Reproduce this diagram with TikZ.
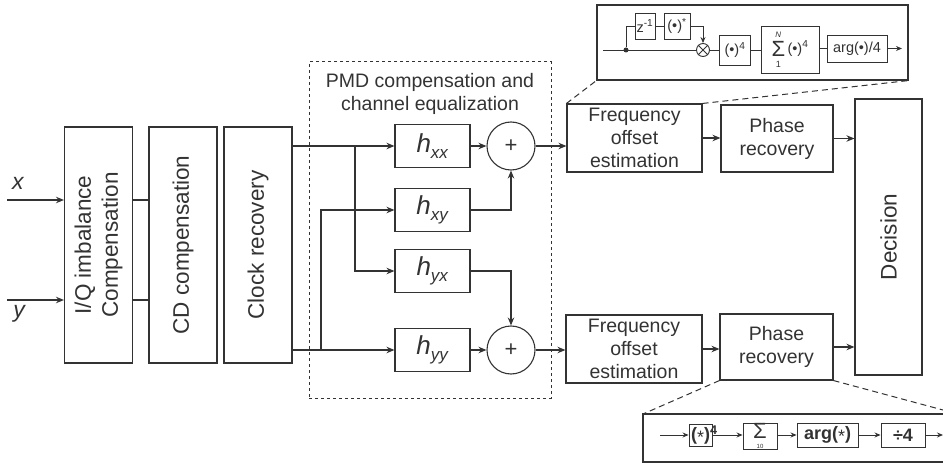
\documentclass[tikz,border=0pt]{standalone}
\usepackage{fontspec}
\setmainfont{Liberation Sans}
\usetikzlibrary{arrows.meta, calc}
\definecolor{ink}{HTML}{333333}
\newcommand{\hsub}[1]{\textit{h}\raisebox{-0.4ex}{\fontsize{17}{17}\selectfont\textit{#1}}}

\begin{document}
\begin{tikzpicture}[x=1pt, y=-1pt,
        box/.style={draw=ink, line width=1.1pt, fill=white, align=center, inner sep=0pt, text=ink},
        blk/.style={box, font=\fontsize{19.5}{23}\selectfont},
        vblk/.style={box, rotate=90, minimum width=236pt, minimum height=68pt, font=\fontsize{22.5}{27}\selectfont},
        filt/.style={box, minimum width=75pt, minimum height=43pt, font=\fontsize{26}{26}\selectfont},
        adder/.style={box, circle, minimum size=48pt, font=\fontsize{22}{22}\selectfont},
        sm/.style={box, line width=0.9pt, font=\fontsize{14.5}{15}\selectfont},
        bsm/.style={box, line width=0.9pt, font=\fontsize{18}{18}\selectfont\bfseries},
        arr/.style={draw=ink, line width=1.1pt, -{Stealth[length=8pt, width=6.5pt]}},
        sarr/.style={draw=ink, line width=0.9pt, -{Stealth[length=6pt, width=5pt]}},
        wire/.style={draw=ink, line width=1.1pt},
        swire/.style={draw=ink, line width=0.9pt},
        zoomln/.style={draw=ink, line width=1pt, dash pattern=on 6pt off 4pt},
        lbl/.style={text=ink, font=\fontsize{23}{23}\selectfont\itshape}
    ]
        \useasboundingbox (0,0) rectangle (943,465);

        \node[vblk] (iq) at (98.5,245) {I/Q imbalance\\Compensation};
        \node[vblk] (cd) at (183,245) {CD compensation};
        \node[vblk] (clk) at (258,245) {Clock recovery};
        \node[lbl] (xin) at (18,183) {x};
        \node[lbl] (yin) at (19,314) {y};
        \coordinate (xs) at (7,200);
        \coordinate (ys) at (7,300);
        \draw[arr] (xs) -- (xs -| iq.north);
        \draw[arr] (ys) -- (ys -| iq.north);
        \draw[wire] (iq.south |- xs) -- (cd.north |- xs);
        \draw[wire] (iq.south |- ys) -- (cd.north |- ys);

        \node[draw=ink, dashed, line width=1pt, minimum width=242pt, minimum height=336pt, inner sep=0pt] (pmd) at (430,230) {};
        \node[text=ink, align=center, font=\fontsize{19.5}{23}\selectfont] (pmdt) at (430,94) {PMD compensation and\\channel equalization};

        \node[filt] (hxx) at (432.5,146) {\hsub{xx}};
        \node[filt] (hxy) at (432.5,210) {\hsub{xy}};
        \node[filt] (hyx) at (432.5,271) {\hsub{yx}};
        \node[filt] (hyy) at (432.5,350) {\hsub{yy}};
        \node[adder] (sa) at (511,146) {+};
        \node[adder] (sb) at (511,350) {+};
        \coordinate (ta) at (355,146);
        \coordinate (tb) at (321,350);

        \draw[arr] (clk.south |- hxx) -- (hxx);
        \draw[arr] (clk.south |- hyy) -- (hyy);
        \draw[arr] (ta) |- (hyx);
        \draw[arr] (tb) |- (hxy);
        \draw[arr] (hxx) -- (sa);
        \draw[arr] (hyy) -- (sb);
        \draw[arr] (hxy) -| (sa);
        \draw[arr] (hyx) -| (sb);

        \node[blk, minimum width=135pt, minimum height=68pt] (fa) at (634.5,138) {Frequency\\offset\\estimation};
        \node[blk, minimum width=112pt, minimum height=67pt] (pa) at (777,138.5) {Phase\\recovery};
        \node[blk, minimum width=136pt, minimum height=68pt] (fb) at (634,349) {Frequency\\offset\\estimation};
        \node[blk, minimum width=113pt, minimum height=66pt] (pb) at (776.5,347) {Phase\\recovery};
        \node[vblk, minimum width=276pt, minimum height=67pt] (dec) at (888.5,237) {Decision};

        \draw[arr] (sa) -- (sa -| fa.west);
        \draw[arr] (sb) -- (sb -| fb.west);
        \draw[arr] (fa.east) -- (fa.east -| pa.west);
        \draw[arr] (fb.east) -- (fb.east -| pb.west);
        \draw[arr] (pa.east) -- (pa.east -| dec.north);
        \draw[arr] (pb.east) -- (pb.east -| dec.north);

        \node[box, minimum width=311pt, minimum height=75pt] (insa) at (752.5,42.5) {};
        \draw[zoomln] (fa.north west) -- (insa.south west);
        \draw[zoomln] (fa.north east) -- (insa.south east);

        \coordinate (ain) at (603,50);
        \node[circle, fill=ink, inner sep=0pt, minimum size=5pt] (dot) at (626,50) {};
        \node[sm, minimum width=20pt, minimum height=26pt] (zd) at (645,26) {z\textsuperscript{-1}};
        \node[sm, minimum width=26pt, minimum height=26pt] (cj) at (677,26) {(•)\textsuperscript{*}};
        \node[circle, draw=ink, line width=0.9pt, minimum size=13pt, inner sep=0pt] (mul) at (703,50) {};
        \draw[swire] (mul.north west) -- (mul.south east) (mul.north east) -- (mul.south west);
        \node[sm, minimum width=31pt, minimum height=30pt] (p4a) at (735,50) {(•)\textsuperscript{4}};
        \node[sm, minimum width=58pt, minimum height=47pt] (sn) at (790,49.5) {$\vcenter{\hbox{\shortstack{{\fontsize{8}{8}\selectfont\itshape N}\\[1pt]{\fontsize{22}{20}\selectfont Σ}\\[2pt]{\fontsize{9}{9}\selectfont 1}}}}$\,(•)\textsuperscript{4}};
        \node[sm, minimum width=60pt, minimum height=27pt] (ag) at (857,48.5) {arg(•)/4};
        \coordinate (aout) at (902,50);

        \draw[swire] (ain) -- (mul);
        \draw[swire] (dot) |- (zd);
        \draw[swire] (zd) -- (cj);
        \draw[sarr] (cj) -| (mul);
        \draw[swire] (mul) -- (p4a);
        \draw[swire] (p4a) -- (p4a -| sn.west);
        \draw[swire] (sn.east |- ag) -- (ag);
        \draw[sarr] (ag) -- (ag -| aout);

        \coordinate (bl) at (643,414);
        \coordinate (br) at (943,410);
        \draw[zoomln] (pb.south west) -- (bl);
        \draw[zoomln] (pb.south east) -- (br);
        \draw[wire, fill=white] (943,414) -| (643,462) -- (943,462);

        \coordinate (bin) at (660,435);
        \node[bsm, minimum width=23pt, minimum height=22pt] (q4) at (700.5,435) {(\raisebox{-0.3ex}{\mdseries *})\rlap{\textsuperscript{4}}};
        \node[box, line width=0.9pt, minimum width=34pt, minimum height=26pt] (sg) at (760,436) {{\fontsize{22}{22}\selectfont Σ}\\[-2pt]{\fontsize{6}{6}\selectfont 10}};
        \node[bsm, minimum width=61pt, minimum height=24pt] (ar) at (827.5,435) {arg(\raisebox{-0.3ex}{\mdseries *})};
        \node[bsm, minimum width=44pt, minimum height=24pt] (dv) at (903,435) {÷4};
        \coordinate (bout) at (943,435);

        \draw[sarr] (bin) -- (q4);
        \draw[sarr] (q4.east) -- (q4.east -| sg.west);
        \draw[sarr] (sg.east |- ar) -- (ar);
        \draw[sarr] (ar) -- (dv);
        \draw[sarr] (dv) -- (bout);
    \end{tikzpicture}
\end{document}
